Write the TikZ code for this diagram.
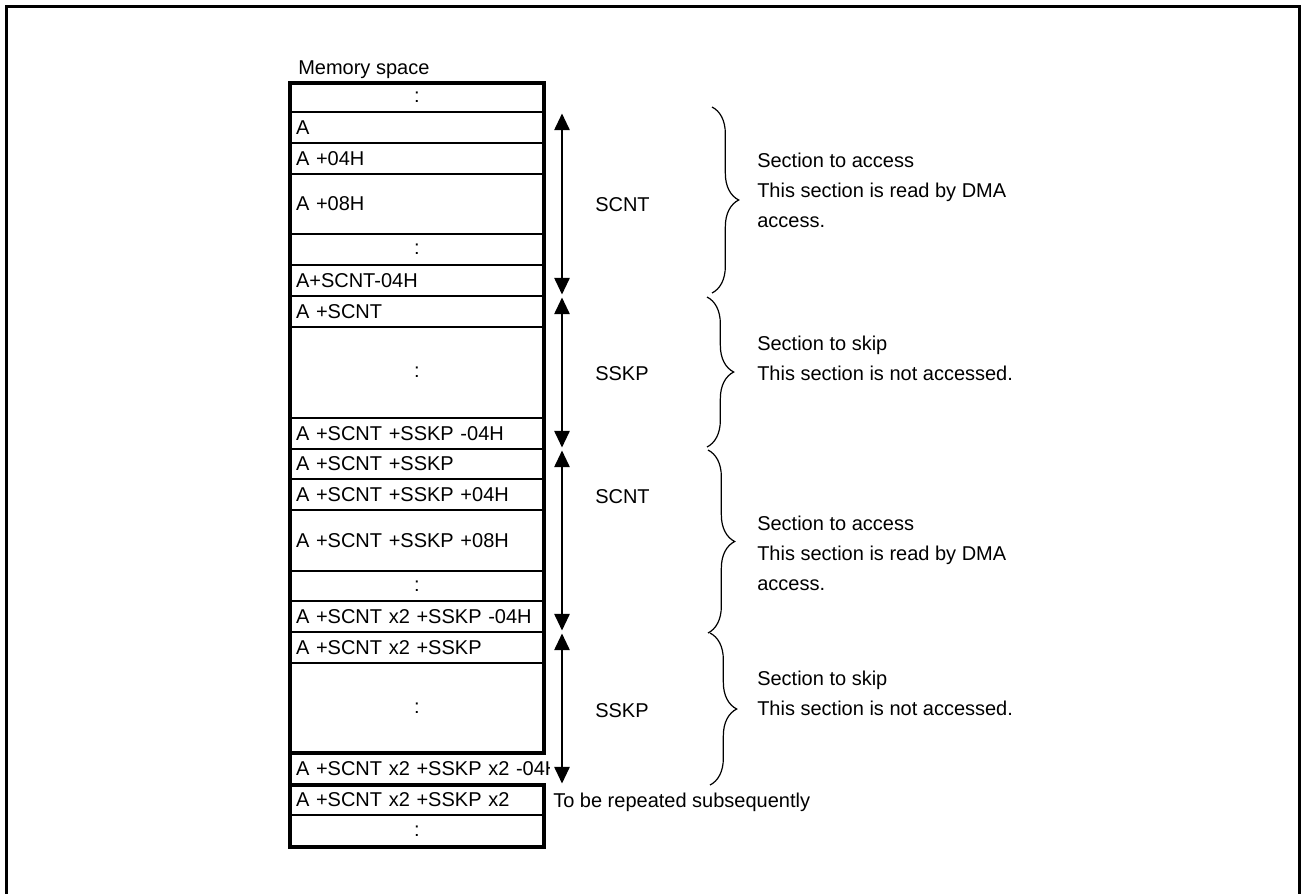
\documentclass[tikz,border=0pt]{standalone}
\usepackage{fontspec}
\setmainfont{Liberation Sans}
\usetikzlibrary{positioning, arrows.meta, calc, decorations.pathreplacing}
\newcommand\memfont{\fontsize{15}{22.5}\selectfont}
\def\pix{0.75pt}

\begin{document}
\begin{tikzpicture}[
  x=0.75pt, y=-0.75pt,
  cell/.style={draw, line width=1pt, outer sep=0pt, inner xsep=4.5pt, inner ysep=0pt,
               text width=181.5pt, minimum height=#1*\pix, align=left, font=\memfont},
  gap/.style={cell=#1, align=center},
  frame/.style={line width=3pt},
  dim/.style={{Triangle[length=12.5pt, width=11.5pt]}-{Triangle[length=12.5pt, width=11.5pt]}, line width=1.4pt},
  brc/.style={decorate, decoration={brace, amplitude=20pt}, line width=0.9pt},
  lbl/.style={anchor=base west, inner sep=0pt, font=\memfont, align=left},
  node distance=0pt
]
\useasboundingbox (0,0) rectangle (1301,893);

% ===== OUTER FRAME =====
\draw[line width=2.25pt] (6.5,896) -- (6.5,6.5) -- (1299.5,6.5) -- (1299.5,896);

% ===== MEMORY ROWS =====
\node[lbl] (title) at (298,74) {Memory space};
\node[gap=29, anchor=north west] (r1) at (290,83) {:};
\node[cell=31, below=of r1] (r2) {A};
\node[cell=31, below=of r2] (r3) {A +04H};
\node[cell=60, below=of r3] (r4) {A +08H};
\node[gap=31, below=of r4] (r5) {:};
\node[cell=31, below=of r5] (r6) {A+SCNT-04H};
\node[cell=31, below=of r6] (r7) {A +SCNT};
\node[gap=91, below=of r7] (r8) {:};
\node[cell=31, below=of r8] (r9) {A +SCNT +SSKP -04H};
\node[cell=30, below=of r9] (r10) {A +SCNT +SSKP};
\node[cell=31, below=of r10] (r11) {A +SCNT +SSKP +04H};
\node[cell=61, below=of r11] (r12) {A +SCNT +SSKP +08H};
\node[gap=30, below=of r12] (r13) {:};
\node[cell=31, below=of r13] (r14) {A +SCNT x2 +SSKP -04H};
\node[cell=31, below=of r14] (r15) {A +SCNT x2 +SSKP};
\node[gap=90, below=of r15] (r16) {:};
\begin{scope}
  \clip (290,753) rectangle (549,785);
  \node[cell=32, draw=none, below=of r16] (r17) {\mbox{A +SCNT x2 +SSKP x2 -04H}};
\end{scope}
\node[cell=30, below=of r17] (r18) {A +SCNT x2 +SSKP x2};
\node[gap=32, below=of r18] (r19) {:};

\draw[frame] (r1.north west) rectangle (r16.south east);
\draw[frame] (r18.north west) rectangle (r19.south east);
\draw[frame] (r16.south west) -- (r18.north west);

% ===== SIZE ARROWS =====
\draw[dim] ($(r2.north east)+(18,1.5)$) -- ($(r6.south east)+(18,-1.5)$);
\draw[dim] ($(r7.north east)+(18,1.5)$) -- ($(r9.south east)+(18,-1.5)$);
\draw[dim] ($(r10.north east)+(18,1.5)$) -- ($(r14.south east)+(18,-1.5)$);
\draw[dim] ($(r15.north east)+(18,1.5)$) -- ($(r17.south east)+(18,-1.5)$);

\node[lbl] (cnt1) at (595,211) {SCNT};
\node[lbl] (skp1) at (595,380) {SSKP};
\node[lbl] (cnt2) at (595,503) {SCNT};
\node[lbl] (skp2) at (595,717) {SSKP};
\node[lbl] (rep) at (553,807) {To be repeated subsequently};

% ===== BRACES =====
\draw[brc] ($(r2.north east)+(168,-5)$) -- ($(r6.south east)+(168,-3)$);
\draw[brc] ($(r7.north east)+(163,1)$) -- ($(r9.south east)+(163,-2)$);
\draw[brc] ($(r10.north east)+(164,1)$) -- ($(r14.south east)+(164,1)$);
\draw[brc] ($(r15.north east)+(166,1)$) -- ($(r17.south east)+(166,0)$);

% ===== SECTION NOTES (anchored on the last line) =====
\node[lbl] (acc1) at (757,227) {Section to access\\This section is read by DMA\\access.};
\node[lbl] (skn1) at (757,380) {Section to skip\\This section is not accessed.};
\node[lbl] (acc2) at (757,590) {Section to access\\This section is read by DMA\\access.};
\node[lbl] (skn2) at (757,715) {Section to skip\\This section is not accessed.};

\end{tikzpicture}
\end{document}
